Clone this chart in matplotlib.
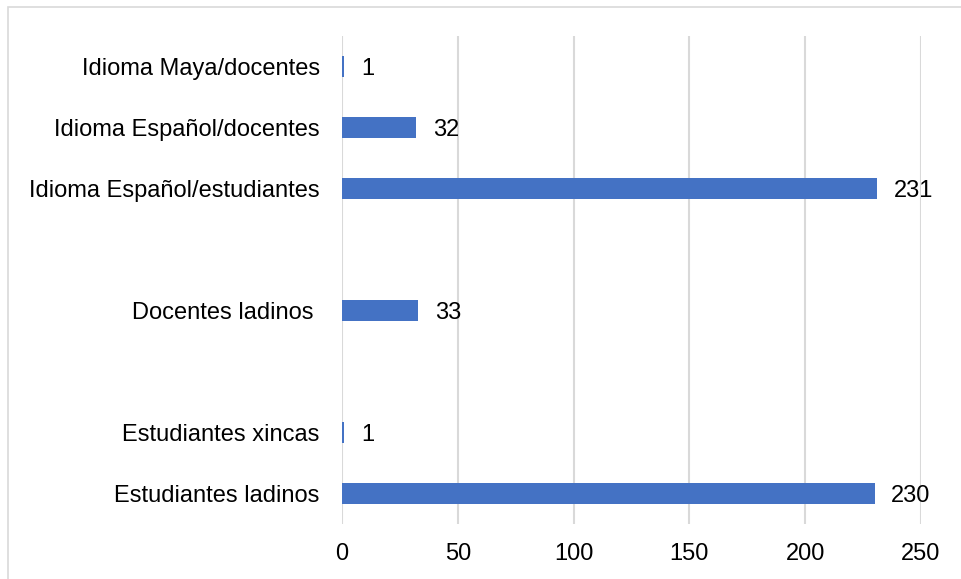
import matplotlib.pyplot as plt
from matplotlib.patches import Rectangle

plt.rcParams['font.family'] = ['Liberation Sans', 'DejaVu Sans']

# categories top to bottom ("" = empty slot)
categorias = ['Idioma Maya/docentes', 'Idioma Español/docentes', 'Idioma Español/estudiantes',
              '', 'Docentes ladinos ', '', 'Estudiantes xincas', 'Estudiantes ladinos']
valores = [1, 32, 231, None, 33, None, 1, 230]
ticks_x = [0, 50, 100, 150, 200, 250]

fig = plt.figure(figsize=(9.61, 5.79), dpi=100)
ax = fig.add_axes([342 / 961, 1 - 524 / 579, (921 - 342) / 961, (524 - 36) / 579])

n = len(categorias)
pos = list(range(n))[::-1]
for p, v in zip(pos, valores):
    if v is None:
        continue
    ax.barh(p, v, height=0.36, color='#4472C4', zorder=3)
    ax.annotate(str(v), xy=(v, p), xytext=(12, -2), textcoords='offset points',
                va='center', ha='left', fontsize=17, color='black')

ax.set_xlim(0, 250)
ax.set_ylim(-0.5, n - 0.5)
ax.set_yticks(pos)
ax.set_yticklabels(categorias, fontsize=17)
ax.set_xticks(ticks_x)
ax.set_xticklabels([str(t) for t in ticks_x], fontsize=17)
ax.tick_params(axis='both', length=0)
ax.tick_params(axis='y', pad=16)
ax.tick_params(axis='x', pad=14)
ax.grid(axis='x', color='#D9D9D9', linewidth=1.5, zorder=0)
for s in ax.spines.values():
    s.set_visible(False)

# light outer border of the chart
fig.patches.append(Rectangle((8 / 961, -0.1), 1.2, (1 - 7 / 579) + 0.1, transform=fig.transFigure,
                             fill=False, edgecolor='#D9D9D9', linewidth=1.2))

fig.savefig('out.png', dpi=100)
